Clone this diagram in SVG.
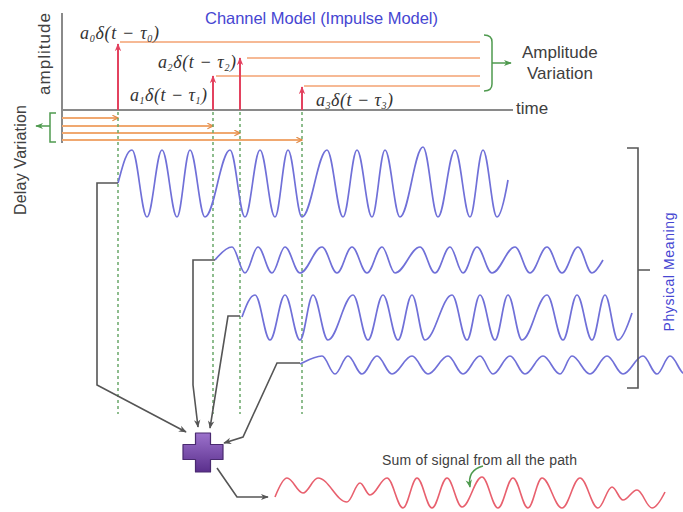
<svg xmlns="http://www.w3.org/2000/svg" width="683" height="512" viewBox="0 0 683 512">
<defs>
<style>
.lbl{font-family:"Liberation Sans",Arial,sans-serif;fill:#404040}
.blue{font-family:"Liberation Sans",Arial,sans-serif;fill:#4646d2}
.math{font-family:"Liberation Serif","Times New Roman",serif;font-style:italic;font-size:18px;fill:#333}
.sub{font-size:10px}
.axis{stroke:#8a8a8a;stroke-width:2;fill:none}
.imp{stroke:#e3425f;stroke-width:2;fill:none;marker-end:url(#ar)}
.amp{stroke:#f6b995;stroke-width:2;fill:none}
.dly{stroke:#f0a870;stroke-width:1.8;fill:none;marker-end:url(#ao)}
.grn{stroke:#4f9a4f;stroke-width:1.5;fill:none}
.dot{stroke:#6aa86a;stroke-width:1.5;stroke-dasharray:3,3;fill:none}
.wave{stroke:#7070d8;stroke-width:1.7;fill:none}
.sum{stroke:#e8606e;stroke-width:1.6;fill:none}
.con{stroke:#555;stroke-width:1.6;fill:none;marker-end:url(#ah)}
.brk{stroke:#555;stroke-width:1.6;fill:none}
</style>
<marker id="ah" viewBox="0 0 10 10" refX="9" refY="5" markerWidth="8" markerHeight="8" orient="auto" markerUnits="userSpaceOnUse"><path d="M0,1 L10,5 L0,9 L3,5 z" fill="#555"/></marker>
<marker id="ar" viewBox="0 0 10 10" refX="9" refY="5" markerWidth="8" markerHeight="8" orient="auto" markerUnits="userSpaceOnUse"><path d="M0,1 L10,5 L0,9 L3,5 z" fill="#e3425f"/></marker>
<marker id="ao" viewBox="0 0 10 10" refX="9" refY="5" markerWidth="7" markerHeight="7" orient="auto" markerUnits="userSpaceOnUse"><path d="M1,1 L9,5 L1,9" fill="none" stroke="#e08a45" stroke-width="1.6"/></marker>
<marker id="ag" viewBox="0 0 10 10" refX="9" refY="5" markerWidth="8" markerHeight="8" orient="auto" markerUnits="userSpaceOnUse"><path d="M0,1 L10,5 L0,9 L3,5 z" fill="#4f9a4f"/></marker>
<linearGradient id="pg" x1="0" y1="0" x2="0" y2="1"><stop offset="0" stop-color="#9c72cc"/><stop offset="1" stop-color="#5a2f8c"/></linearGradient>
</defs>

<g id="title"><text class="blue" x="205" y="24" font-size="16.5" textLength="233">Channel Model (Impulse Model)</text></g>

<g id="axes">
<path class="axis" d="M62,13 V143"/>
<path class="axis" d="M62,110 H513"/>
<text class="lbl" x="516" y="114" font-size="17">time</text>
<text class="lbl" font-size="17" text-anchor="middle" textLength="82" transform="translate(50,54) rotate(-90)">amplitude</text>
</g>

<g id="amplitude-lines">
<path class="amp" d="M120,42 H480 M247,58 H480 M216,76 H480 M304,86 H480"/>
</g>

<g id="impulses">
<path class="imp" d="M118,110 V44"/>
<path class="imp" d="M213,110 V76"/>
<path class="imp" d="M240,110 V58"/>
<path class="imp" d="M302,110 V87"/>
<text class="math" x="80" y="39" textLength="79">a<tspan class="sub" dy="3">0</tspan><tspan dy="-3">δ(t − τ</tspan><tspan class="sub" dy="3">0</tspan><tspan dy="-3">)</tspan></text>
<text class="math" x="158" y="68" textLength="78">a<tspan class="sub" dy="3">2</tspan><tspan dy="-3">δ(t − τ</tspan><tspan class="sub" dy="3">2</tspan><tspan dy="-3">)</tspan></text>
<text class="math" x="130" y="101" textLength="77">a<tspan class="sub" dy="3">1</tspan><tspan dy="-3">δ(t − τ</tspan><tspan class="sub" dy="3">1</tspan><tspan dy="-3">)</tspan></text>
<text class="math" x="316" y="106" textLength="77">a<tspan class="sub" dy="3">3</tspan><tspan dy="-3">δ(t − τ</tspan><tspan class="sub" dy="3">3</tspan><tspan dy="-3">)</tspan></text>
</g>

<g id="amplitude-variation">
<path class="grn" d="M484,35 Q492,35 492,42 V84 Q492,91 484,91"/>
<path class="grn" d="M492,63 H511" marker-end="url(#ag)"/>
<text class="lbl" x="522" y="58" font-size="17">Amplitude</text>
<text class="lbl" x="527" y="79" font-size="17">Variation</text>
</g>

<g id="delay-lines">
<path class="dly" d="M62,118 H118"/>
<path class="dly" d="M62,126 H213"/>
<path class="dly" d="M62,133 H240"/>
<path class="dly" d="M62,140 H302"/>
</g>

<g id="delay-variation">
<path class="grn" d="M56,113 H50 V142 H56"/>
<path class="grn" d="M50,126 H36" marker-end="url(#ag)"/>
<text class="lbl" font-size="16" text-anchor="middle" textLength="110" transform="translate(26,160) rotate(-90)">Delay Variation</text>
</g>

<g id="guides">
<path class="dot" d="M118,112 V414 M213,112 V414 M240,112 V414 M302,112 V414"/>
</g>

<g id="wave0">
<path class="wave" d="M118,183 c4.6,-17 8.4,-33 14,-33 c5.5,0 9.5,67 15,67 c5.5,0 9.5,-67 15,-67 c5.5,0 9.5,67 15,67 c4.7,0 8.3,-67 13,-67 c5.5,0 9.5,67 15,67 c9.1,0 15.9,-67 25,-67 c5.5,0 9.5,67 15,67 c5.5,0 9.5,-67 15,-67 c5.5,0 9.5,67 15,67 c4.7,0 8.3,-67 13,-67 c5.1,0 8.9,67 14,67 c9.1,0 15.9,-67 25,-67 c5.8,0 10.2,67 16,67 c5.1,0 8.9,-67 14,-67 c5.5,0 9.5,67 15,67 c4.7,0 8.3,-67 13,-67 c5.5,0 9.5,67 15,67 c8.4,0 14.6,-70 23,-70 c5.5,0 9.5,70 15,70 c6.2,0 10.8,-67 17,-67 c5.5,0 9.5,67 15,67 c4.7,0 8.3,-67 13,-67 c5.1,0 8.9,67 14,67 c4,0 8,-20 11,-37"/>
</g>

<g id="wave1">
<path class="wave" d="M215,260 c5,-6 11,-13 17,-13 c4.7,0 8.3,26 13,26 c4.7,0 8.3,-26 13,-26 c5.1,0 8.9,26 14,26 c4.7,0 8.3,-26 13,-26 c5.5,0 9.5,26 15,26 c8,0 14,-26 22,-26 c5.5,0 9.5,26 15,26 c5.5,0 9.5,-26 15,-26 c5.5,0 9.5,26 15,26 c5.5,0 9.5,-26 15,-26 c4.7,0 8.3,26 13,26 c9.1,0 15.9,-26 25,-26 c5.5,0 9.5,26 15,26 c5.5,0 9.5,-26 15,-26 c4.7,0 8.3,26 13,26 c5.1,0 8.9,-26 14,-26 c5.5,0 9.5,26 15,26 c8.4,0 14.6,-26 23,-26 c5.5,0 9.5,26 15,26 c6.2,0 10.8,-26 17,-26 c5.5,0 9.5,26 15,26 c5.8,0 10.2,-26 16,-26 c5.1,0 8.9,26 14,26 c3,0 7,-6 11,-13"/>
</g>

<g id="wave2">
<path class="wave" d="M242,317 c4,-11 8,-22 13,-22 c5.5,0 9.5,45 15,45 c5.5,0 9.5,-45 15,-45 c5.5,0 9.5,45 15,45 c4.7,0 8.3,-45 13,-45 c5.5,0 9.5,45 15,45 c9.1,0 15.9,-45 25,-45 c5.5,0 9.5,45 15,45 c5.5,0 9.5,-45 15,-45 c5.5,0 9.5,45 15,45 c5.1,0 8.9,-45 14,-45 c4.7,0 8.3,45 13,45 c9.8,0 17.2,-45 27,-45 c5.5,0 9.5,45 15,45 c4.7,0 8.3,-45 13,-45 c5.5,0 9.5,45 15,45 c4.7,0 8.3,-45 13,-45 c5.1,0 8.9,45 14,45 c9.1,0 15.9,-45 25,-45 c5.8,0 10.2,45 16,45 c5.1,0 8.9,-45 14,-45 c5.5,0 9.5,45 15,45 c4.7,0 8.3,-45 13,-45 c4.7,0 8.3,45 13,45 c4,0 10,-15 14,-27"/>
</g>

<g id="wave3">
<path class="wave" d="M300,364 c8,-4 15,-8 22,-8 c4.7,0 8.3,18 13,18 c4.7,0 8.3,-18 13,-18 c5.1,0 8.9,18 14,18 c5.5,0 9.5,-18 15,-18 c5.5,0 9.5,18 15,18 c7.3,0 12.7,-18 20,-18 c5.8,0 10.2,18 16,18 c7.3,0 12.7,-18 20,-18 c5.5,0 9.5,18 15,18 c6.2,0 10.8,-18 17,-18 c4.7,0 8.3,18 13,18 c6.2,0 10.8,-18 17,-18 c5.5,0 9.5,18 15,18 c6.6,0 11.4,-18 18,-18 c6.2,0 10.8,18 17,18 c4.4,0 7.6,-18 12,-18 c6.6,0 11.4,18 18,18 c6.2,0 10.8,-18 17,-18 c5.8,0 10.2,18 16,18 c7.3,0 12.7,-18 20,-18 c5.1,0 8.9,18 14,18 c4.7,0 8.3,-18 13,-18 c5.5,0 9.5,18 15,18"/>
</g>

<g id="physical-meaning">
<path class="brk" d="M627,148 H638 V388 H627 M638,270 H650"/>
<text class="blue" font-size="14" text-anchor="middle" textLength="119" transform="translate(674,272) rotate(-90)">Physical Meaning</text>
</g>

<g id="adder">
<path d="M195.5,433 H210.5 V444.5 H223 V459.5 H210.5 V472 H195.5 V459.5 H183 V444.5 H195.5 Z" fill="url(#pg)" stroke="#4a2a70" stroke-width="1.2" stroke-linejoin="round"/>
</g>

<g id="connectors">
<path class="con" d="M118,183 H97 V385 L186,432"/>
<path class="con" d="M215,260 H193 V385 L198,427"/>
<path class="con" d="M240,316 H228 L210,428"/>
<path class="con" d="M300,363 H277 L243,437 L224,443"/>
<path class="con" d="M217,468 L237,497 H268"/>
</g>

<g id="sum-signal">
<path class="sum" d="M275,497 c4,-10 8,-19 12,-19 c5.8,0 10.2,15 16,15 c5.5,0 9.5,-15 15,-15 c10.6,0 18.4,24 29,24 c4.7,0 8.3,-19 13,-19 c3.6,0 6.4,12 10,12 c6.2,0 10.8,-17 17,-17 c5.8,0 10.2,30 16,30 c5.1,0 8.9,-30 14,-30 c5.5,0 9.5,30 15,30 c5.5,0 9.5,-30 15,-30 c5.5,0 9.5,29 15,29 c7.3,0 12.7,-30 20,-30 c5.8,0 10.2,31 16,31 c5.5,0 9.5,-30 15,-30 c5.5,0 9.5,30 15,30 c5.1,0 8.9,-30 14,-30 c7.3,0 12.7,30 20,30 c6.6,0 11.4,-30 18,-30 c6.6,0 11.4,30 18,30 c5.1,0 8.9,-21 14,-21 c4,0 7,13 11,13 c5.1,0 8.9,-10 14,-10 c5.5,0 9.5,18 15,18 c4,0 9,-8 13,-16"/>
<text class="lbl" x="382" y="465" font-size="14" textLength="195">Sum of signal from all the path</text>
<path class="grn" d="M483,466 Q467,470 470,487" marker-end="url(#ag)"/>
</g>
</svg>
